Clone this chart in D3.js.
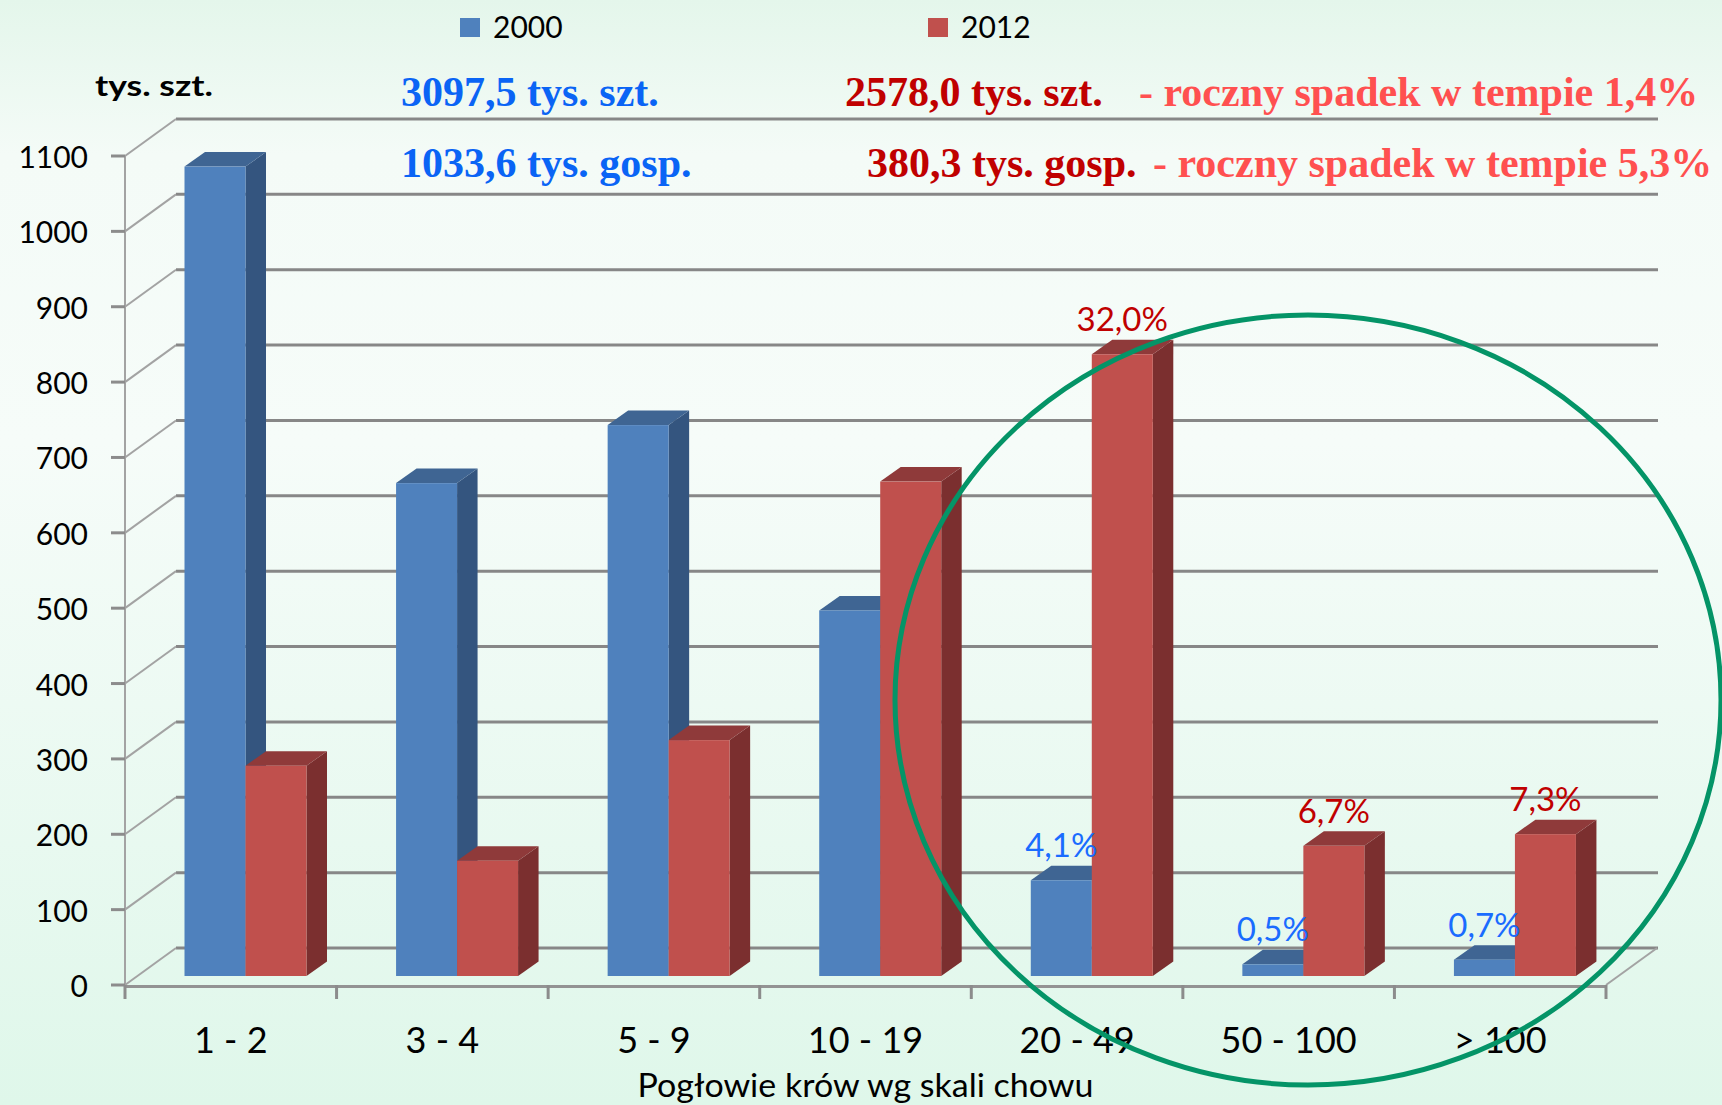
<!DOCTYPE html>
<html lang="pl">
<head>
<meta charset="utf-8">
<title>Pogłowie krów wg skali chowu</title>
<script src="https://cdn.jsdelivr.net/npm/d3@7/dist/d3.min.js"></script>
<style>
  html, body { margin: 0; padding: 0; background: #eefaf3; }
  svg { display: block; }
</style>
</head>
<body>
<div id="chart"></div>
<script>
// Herd size classes (cows per farm)
const categories = ["1 - 2", "3 - 4", "5 - 9", "10 - 19", "20 - 49", "50 - 100", "> 100"];
const seriesNames = ["2000", "2012"];

// Number of cows, thousand head
const values2000 = [1074, 654, 731, 485, 127.0, 15.5, 21.7];
const values2012 = [279, 153, 313, 656, 825.0, 172.7, 188.2];

// Share of the total herd, printed above the larger-farm bars
const shares2000 = [null, null, null, null, "4,1%", "0,5%", "0,7%"];
const shares2012 = [null, null, null, null, "32,0%", "6,7%", "7,3%"];

const yTicks = [0, 100, 200, 300, 400, 500, 600, 700, 800, 900, 1000, 1100];

const W = 1722, H = 1105;
const svg = d3.select("#chart").append("svg")
  .attr("width", W).attr("height", H)
  .attr("viewBox", `0 0 ${W} ${H}`);

// soft mint background
const defs = svg.append("defs");
const bg = defs.append("linearGradient").attr("id", "bg")
  .attr("x1", 0).attr("y1", 0).attr("x2", 0).attr("y2", 1);
bg.append("stop").attr("offset", "0%").attr("stop-color", "#e4f6eb");
bg.append("stop").attr("offset", "14%").attr("stop-color", "#f4fbf7");
bg.append("stop").attr("offset", "40%").attr("stop-color", "#f6fcf9");
bg.append("stop").attr("offset", "100%").attr("stop-color", "#dff7ea");
svg.append("rect").attr("width", W).attr("height", H).attr("fill", "url(#bg)");

// scales: front plane of the 3-D box
const x = d3.scaleBand().domain(categories).range([125, 1606]).padding(0);
const xs = d3.scaleBand().domain(seriesNames).range([59.5, 181.5]).padding(0);
const y = d3.scaleLinear().domain([0, 1100]).range([985, 156]);

// oblique depth of the walls and of the bars
const wallDx = 51, wallDy = -37;
const barSet = -9;           // bars stand slightly behind the front edge
const depDx = 20.5, depDy = -14.5;

const grid = svg.append("g");

// back wall gridlines
grid.selectAll("line.back").data(yTicks).join("line")
  .attr("x1", 125 + wallDx).attr("x2", 1658)
  .attr("y1", d => y(d) + wallDy).attr("y2", d => y(d) + wallDy)
  .attr("stroke", "#878787").attr("stroke-width", 3);

// side wall diagonals
grid.selectAll("line.side").data(yTicks).join("line")
  .attr("x1", 125).attr("x2", 125 + wallDx)
  .attr("y1", d => y(d)).attr("y2", d => y(d) + wallDy)
  .attr("stroke", "#a3a3a3").attr("stroke-width", 2);

// left wall front edge
grid.append("line")
  .attr("x1", 125).attr("x2", 125)
  .attr("y1", y(0)).attr("y2", y(1100))
  .attr("stroke", "#a3a3a3").attr("stroke-width", 2);

// floor front edge and right floor edge
grid.append("line")
  .attr("x1", 125).attr("x2", 1606)
  .attr("y1", y(0) + 1.5).attr("y2", y(0) + 1.5)
  .attr("stroke", "#939393").attr("stroke-width", 3);
grid.append("line")
  .attr("x1", 1606).attr("x2", 1606 + wallDx)
  .attr("y1", y(0)).attr("y2", y(0) + wallDy)
  .attr("stroke", "#a3a3a3").attr("stroke-width", 2);

// value axis ticks and labels
const yAxis = svg.append("g");
yAxis.selectAll("line").data(yTicks).join("line")
  .attr("x1", 111).attr("x2", 125)
  .attr("y1", d => y(d)).attr("y2", d => y(d))
  .attr("stroke", "#8c8c8c").attr("stroke-width", 3);
yAxis.selectAll("text").data(yTicks).join("text")
  .attr("x", 88).attr("y", d => y(d) + 12)
  .attr("text-anchor", "end")
  .attr("font-family", "Lato, 'Noto Sans', sans-serif")
  .attr("font-size", 30).attr("fill", "#000")
  .text(d => d);

// category ticks
const bounds = categories.map(c => x(c)).concat([x.range()[1]]);
svg.append("g").selectAll("line").data(bounds).join("line")
  .attr("x1", d => d).attr("x2", d => d)
  .attr("y1", y(0)).attr("y2", y(0) + 14)
  .attr("stroke", "#8c8c8c").attr("stroke-width", 3);

// category labels
svg.append("g").selectAll("text").data(categories).join("text")
  .attr("x", d => x(d) + x.bandwidth() / 2)
  .attr("y", 1053)
  .attr("text-anchor", "middle")
  .attr("font-family", "Lato, 'Noto Sans', sans-serif")
  .attr("font-size", 36).attr("fill", "#000")
  .text(d => d);

// axis titles
svg.append("text")
  .attr("x", (125 + 1606) / 2).attr("y", 1097)
  .attr("text-anchor", "middle")
  .attr("font-family", "Lato, 'Noto Sans', sans-serif")
  .attr("font-size", 32).attr("fill", "#000")
  .attr("textLength", 456).attr("lengthAdjust", "spacingAndGlyphs")
  .text("Pogłowie krów wg skali chowu");
svg.append("text")
  .attr("x", 95).attr("y", 96)
  .attr("font-family", "Lato, 'Noto Sans', sans-serif")
  .attr("font-weight", "bold")
  .attr("font-size", 28).attr("fill", "#000")
  .attr("textLength", 118).attr("lengthAdjust", "spacingAndGlyphs")
  .text("tys. szt.");

// 3-D bars
const palette = {
  "2000": { front: "#4f81bd", side: "#34557f", top: "#3f6593" },
  "2012": { front: "#c0504d", side: "#7b2f2f", top: "#8f3a3a" }
};
const rows = [];
categories.forEach((c, i) => {
  rows.push({ cat: c, s: "2000", v: values2000[i], label: shares2000[i] });
  rows.push({ cat: c, s: "2012", v: values2012[i], label: shares2012[i] });
});

const bars = svg.append("g");
rows.forEach(r => {
  const x0 = x(r.cat) + xs(r.s);
  const w = xs.bandwidth();
  const yb = y(0) + barSet;
  const yt = y(r.v) + barSet;
  const col = palette[r.s];
  const g = bars.append("g");
  g.append("polygon")
    .attr("points", [[x0 + w, yb], [x0 + w + depDx, yb + depDy], [x0 + w + depDx, yt + depDy], [x0 + w, yt]].join(" "))
    .attr("fill", col.side);
  g.append("polygon")
    .attr("points", [[x0, yt], [x0 + depDx, yt + depDy], [x0 + w + depDx, yt + depDy], [x0 + w, yt]].join(" "))
    .attr("fill", col.top);
  g.append("rect")
    .attr("x", x0).attr("y", yt)
    .attr("width", w).attr("height", yb - yt)
    .attr("fill", col.front);
});

// share labels above the bars
svg.append("g").selectAll("text").data(rows.filter(r => r.label)).join("text")
  .attr("x", r => x(r.cat) + xs(r.s) + xs.bandwidth() / 2)
  .attr("y", r => y(r.v) + barSet - 23)
  .attr("text-anchor", "middle")
  .attr("font-family", "Lato, 'Noto Sans', sans-serif")
  .attr("font-size", 33)
  .attr("fill", r => r.s === "2000" ? "#1a6cff" : "#c00000")
  .text(r => r.label);

// legend
const legend = svg.append("g");
[{ s: "2000", x: 460 }, { s: "2012", x: 928 }].forEach(l => {
  legend.append("rect").attr("x", l.x).attr("y", 18).attr("width", 20).attr("height", 19)
    .attr("fill", palette[l.s].front);
  legend.append("text").attr("x", l.x + 33).attr("y", 38)
    .attr("font-family", "Lato, 'Noto Sans', sans-serif")
    .attr("font-size", 30).attr("fill", "#000")
    .text(l.s);
});

// totals and annual decline notes
const serif = "'Liberation Serif', 'Times New Roman', serif";
const notes = [
  { t: "3097,5 tys. szt.", x: 401, y: 106, c: "#0a64f5" },
  { t: "1033,6 tys. gosp.", x: 401, y: 177, c: "#0a64f5" },
  { t: "2578,0 tys. szt.", x: 845, y: 106, c: "#c00000" },
  { t: "- roczny spadek w tempie 1,4%", x: 1139, y: 106, c: "#ff5050" },
  { t: "380,3 tys. gosp.", x: 867, y: 177, c: "#c00000" },
  { t: "- roczny spadek w tempie 5,3%", x: 1153, y: 177, c: "#ff5050" }
];
svg.append("g").selectAll("text").data(notes).join("text")
  .attr("x", d => d.x).attr("y", d => d.y)
  .attr("font-family", serif)
  .attr("font-weight", "bold")
  .attr("font-size", 42)
  .attr("fill", d => d.c)
  .text(d => d.t);

// highlight ring around the large-farm groups
svg.append("ellipse")
  .attr("cx", 1308).attr("cy", 700)
  .attr("rx", 413).attr("ry", 385)
  .attr("fill", "none")
  .attr("stroke", "#049467").attr("stroke-width", 5);
</script>
</body>
</html>
